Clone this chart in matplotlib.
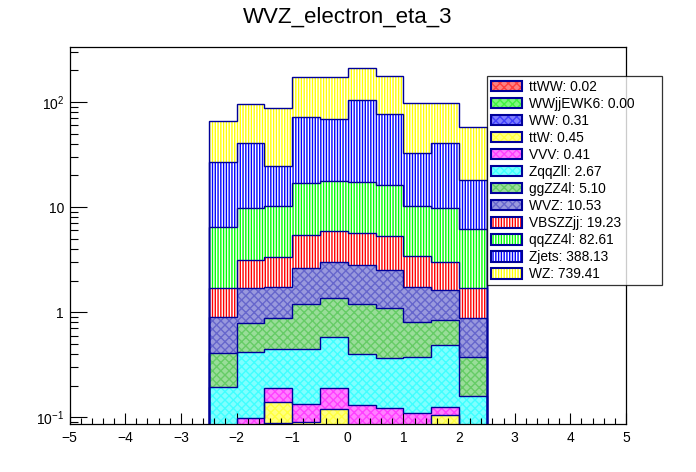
import numpy as np
import matplotlib
matplotlib.use("Agg")
import matplotlib.pyplot as plt
from matplotlib.patches import Patch
from matplotlib.colors import to_rgb
from matplotlib.ticker import NullFormatter, LogLocator, MultipleLocator

# ---------------- data ----------------
edges = np.linspace(-2.5, 2.5, 11)

processes = ["ttWW", "WWjjEWK6", "WW", "ttW", "VVV", "ZqqZll",
             "ggZZ4l", "WVZ", "VBSZZjj", "qqZZ4l", "Zjets", "WZ"]
totals = ["0.02", "0.00", "0.31", "0.45", "0.41", "2.67",
          "5.10", "10.53", "19.23", "82.61", "388.13", "739.41"]

ttWW = [0, 0, 0.004, 0.004, 0.003, 0.003, 0.003, 0.003, 0, 0]
WWjjEWK6 = [0, 0, 0, 0, 0, 0, 0, 0, 0, 0]
WW = [0, 0.02, 0.084, 0.04, 0.03, 0.03, 0.03, 0.02, 0.03, 0.02]
ttW = [0.02, 0.02, 0.051, 0.046, 0.086, 0.04, 0.04, 0.04, 0.073, 0.02]
VVV = [0.02, 0.058, 0.05, 0.043, 0.07, 0.057, 0.049, 0.046, 0.022, 0.01]
ZqqZll = [0.154, 0.318, 0.255, 0.311, 0.389, 0.268, 0.243, 0.264, 0.36, 0.108]
ggZZ4l = [0.213, 0.37, 0.433, 0.746, 0.782, 0.792, 0.725, 0.43, 0.354, 0.215]
WVZ = [0.489, 0.904, 0.853, 1.43, 1.63, 1.61, 1.42, 0.927, 0.781, 0.504]
VBSZZjj = [0.79, 1.44, 1.61, 2.79, 2.92, 2.85, 2.78, 1.68, 1.37, 0.81]
qqZZ4l = [4.76, 6.65, 6.86, 11.5, 11.8, 11.65, 10.9, 6.79, 6.79, 4.48]
Zjets = [20.35, 30.9, 14.4, 55.0, 51.2, 87.2, 60.7, 22.5, 30.9, 11.9]
WZ = [39.1, 55.0, 63.1, 101, 104, 106.5, 100, 65.1, 57.1, 39.7]

values = [ttWW, WWjjEWK6, WW, ttW, VVV, ZqqZll,
          ggZZ4l, WVZ, VBSZZjj, qqZZ4l, Zjets, WZ]

# ---------------- style ----------------
plt.rcParams['font.family'] = ['Liberation Sans', 'DejaVu Sans']
plt.rcParams['mathtext.fontset'] = 'custom'
plt.rcParams['mathtext.rm'] = 'Liberation Sans'
plt.rcParams['hatch.linewidth'] = 1.0

NAVY = '#000099'


def tint(c, f):
    r = np.array(to_rgb(c))
    return tuple(r * f + (1 - f))


base_colors = ['#ff0000', '#00ee00', '#0000ff', '#ffff00', '#ff00ff', '#00ffff',
               '#33bb33', '#3333bb', '#ff0000', '#00ff00', '#0000ff', '#ffff00']
# first 8 are fine checker fills in ROOT, last 4 are vertical stripes
styles = []
for i, c in enumerate(base_colors):
    if i < 8:
        styles.append((tint(c, 0.75), tint(c, 0.5), 'xxxx'))
    else:
        styles.append((c, 'white', '||||||'))

fig = plt.figure(figsize=(6.96, 4.72), dpi=100, facecolor='white')
ax = fig.add_axes([0.1, 0.1017, 0.7994, 0.7981])

centers = 0.5 * (edges[:-1] + edges[1:])
bottom = np.full(len(centers), 1e-3)
tops = []
for vals, (hc, fc, ht) in zip(values, styles):
    vals = np.asarray(vals, dtype=float)
    ax.bar(centers, vals, width=0.5, bottom=bottom, color=fc,
           edgecolor=hc, hatch=ht, linewidth=0, align='center', zorder=1)
    bottom = bottom + vals
    tops.append(bottom.copy())

# outlines drawn after all fills, like ROOT draws each histogram frame
for top in tops:
    ax.stairs(top, edges, baseline=1e-3, color=NAVY, linewidth=1.0, zorder=2)

ax.set_yscale('log')
ax.set_xlim(-5, 5)
ax.set_ylim(0.0863, 332)

ax.set_yticks([0.1, 1, 10, 100])
ax.set_yticklabels([r'$\mathdefault{10^{-1}}$', '1', '10', r'$\mathdefault{10^{2}}$'])
ax.yaxis.set_minor_locator(LogLocator(base=10, subs=np.arange(2, 10)))
ax.yaxis.set_minor_formatter(NullFormatter())
ax.xaxis.set_major_locator(MultipleLocator(1))
ax.xaxis.set_minor_locator(MultipleLocator(0.2))

ax.tick_params(axis='both', which='both', direction='in', top=False, right=False,
               labelsize=10, width=0.8, colors='black')
ax.tick_params(axis='y', which='major', length=12.2, pad=4)
ax.tick_params(axis='y', which='minor', length=6)
ax.tick_params(axis='x', which='major', length=7.8, pad=5)
ax.tick_params(axis='x', which='minor', length=4)
for sp in ax.spines.values():
    sp.set_linewidth(0.9)
    sp.set_color('black')

fig.text(0.5, 1 - 23 / 472, "WVZ_electron_eta_3", ha='center', va='baseline',
         fontsize=16)

# ---------------- legend ----------------
handles = []
for hc, fc, ht in styles:
    fill = Patch(facecolor=fc, edgecolor=hc, hatch=ht, linewidth=0)
    frame = Patch(facecolor='none', edgecolor=NAVY, linewidth=1.5)
    handles.append((fill, frame))
labels = [f"{p}: {t}" for p, t in zip(processes, totals)]

leg_top = 1 - 75.7 / 472
leg_h = (282.7 - 75.7) / 472
leg = fig.legend(handles, labels, loc='upper left',
                 bbox_to_anchor=(487 / 696, leg_top - leg_h, 174.5 / 696, leg_h),
                 mode='expand', fontsize=9.9, frameon=True, fancybox=False,
                 shadow=False, borderpad=0.3, labelspacing=0.22,
                 handlelength=2.25, handleheight=0.8, handletextpad=0.5,
                 borderaxespad=0)
leg.get_frame().set_edgecolor('black')
leg.get_frame().set_linewidth(0.9)

fig.savefig("out.png", dpi=100)
